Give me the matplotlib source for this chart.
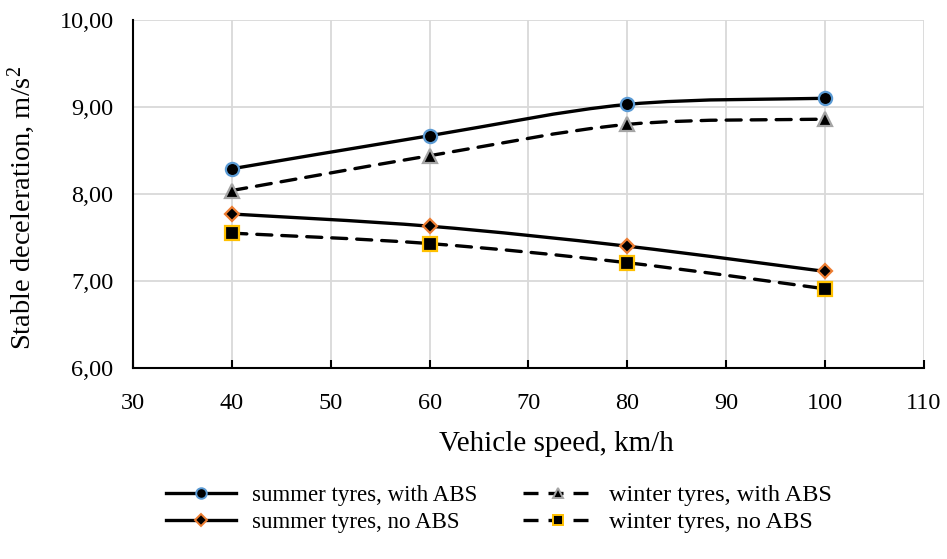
import matplotlib
matplotlib.use("Agg")
import matplotlib.pyplot as plt
from matplotlib.path import Path
from matplotlib.patches import PathPatch
from matplotlib.lines import Line2D
from matplotlib.ticker import FuncFormatter, MultipleLocator

plt.rcParams['font.family'] = ['Liberation Serif', 'DejaVu Serif']
plt.rcParams['mathtext.fontset'] = 'custom'
plt.rcParams['mathtext.rm'] = 'Liberation Serif'
plt.rcParams['mathtext.it'] = 'Liberation Serif:italic'

speed = [40, 60, 80, 100]
summer_abs = [8.29, 8.67, 9.03, 9.10]
winter_abs = [8.04, 8.44, 8.80, 8.86]
summer_noabs = [7.77, 7.63, 7.40, 7.11]
winter_noabs = [7.55, 7.43, 7.21, 6.91]

labels = ['summer tyres, with ABS', 'winter tyres, with ABS',
          'summer tyres, no ABS', 'winter tyres, no ABS']

fig = plt.figure(figsize=(9.47, 5.59), dpi=100)
ax = fig.add_axes([0.1404, 0.3417, 0.8353, 0.6225])

LW = 2.4
DASH = (4.5, 3)


def smooth_path(xs, ys):
    pts = list(zip(xs, ys))
    n = len(pts)
    verts = [pts[0]]
    codes = [Path.MOVETO]
    for i in range(n - 1):
        p0 = pts[i - 1] if i > 0 else pts[i]
        p1 = pts[i]
        p2 = pts[i + 1]
        p3 = pts[i + 2] if i + 2 < n else pts[i + 1]
        c1 = (p1[0] + (p2[0] - p0[0]) / 6.0, p1[1] + (p2[1] - p0[1]) / 6.0)
        c2 = (p2[0] - (p3[0] - p1[0]) / 6.0, p2[1] - (p3[1] - p1[1]) / 6.0)
        verts += [c1, c2, p2]
        codes += [Path.CURVE4] * 3
    return Path(verts, codes)


series = [
    (summer_abs, '-', 'o', '#5B9BD5', 9.5),
    (winter_abs, '--', '^', '#A5A5A5', 9.5),
    (summer_noabs, '-', 'D', '#ED7D31', 7.5),
    (winter_noabs, '--', 's', '#FFC000', 9.5),
]

handles = []
for (vals, ls, mk, ec, ms), lab in zip(series, labels):
    patch = PathPatch(smooth_path(speed, vals), facecolor='none', edgecolor='black',
                      lw=LW, capstyle='round', zorder=3)
    if ls == '--':
        patch.set_linestyle((0, DASH))
    ax.add_patch(patch)
    ax.plot(speed, vals, linestyle='none', marker=mk, markersize=ms,
            markerfacecolor='black', markeredgecolor=ec, markeredgewidth=1.6, zorder=4)
    h = Line2D([], [], color='black', lw=LW, marker=mk, markersize=ms * 0.8,
               markerfacecolor='black', markeredgecolor=ec, markeredgewidth=1.4)
    if ls == '--':
        h.set_dashes(DASH)
    handles.append(h)

ax.set_xlim(30, 110)
ax.set_ylim(6, 10)
ax.xaxis.set_major_locator(MultipleLocator(10))
ax.yaxis.set_major_locator(MultipleLocator(1))
ax.yaxis.set_major_formatter(FuncFormatter(lambda v, p: f"{v:.2f}".replace('.', ',')))
ax.grid(True, color='#d9d9d9', lw=1.3, zorder=0)
ax.set_axisbelow(True)
for s in ['top', 'right']:
    ax.spines[s].set_visible(False)
for s in ['left', 'bottom']:
    ax.spines[s].set_linewidth(1.5)
ax.tick_params(axis='x', direction='in', length=6, width=1.5, labelsize=17.5, pad=18)
ax.tick_params(axis='y', direction='in', length=0, width=1.5, labelsize=17.5, pad=14)

ax.set_xlabel('Vehicle speed, km/h', fontsize=21)
ax.xaxis.set_label_coords(0.535, -0.181)
ax.set_ylabel(r'Stable deceleration, m/s$^{2}$', fontsize=20.5)
ax.yaxis.set_label_coords(-0.121, 0.461)

order = [0, 2, 1, 3]
leg = fig.legend([handles[i] for i in order], [labels[i] for i in order],
                 loc='center left', bbox_to_anchor=(166 / 947, 0.0895), ncol=2,
                 frameon=False, fontsize=16.5, handlelength=3.05, numpoints=1,
                 columnspacing=2.0, labelspacing=0.3, handletextpad=0.7,
                 borderpad=0, borderaxespad=0)
texts = leg.get_texts()
texts[2].set_fontsize(17.5)
texts[3].set_fontsize(17.5)

fig.savefig('out.png', dpi=100)
